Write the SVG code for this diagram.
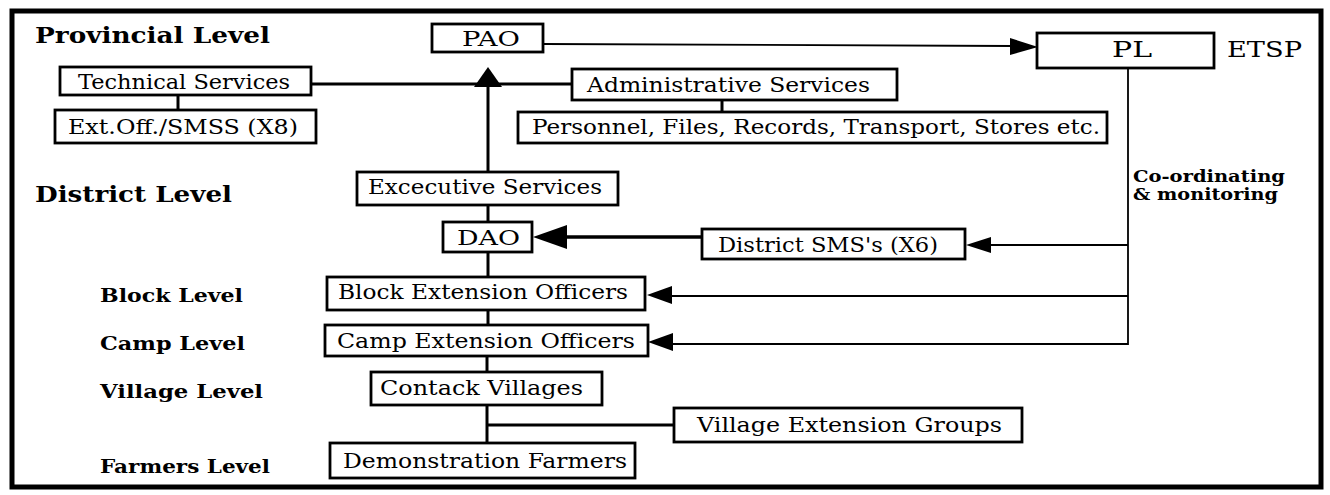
<svg xmlns="http://www.w3.org/2000/svg" width="1330" height="495" viewBox="0 0 1330 495">
  <style>
    .frame { fill: none; stroke: #000; stroke-width: 5; }
    .box rect { fill: #fff; stroke: #000; stroke-width: 2.8; }
    .box text { font-family: "DejaVu Serif", "Liberation Serif", serif; font-size: 20.5px; fill: #000; }
    .lvl { font-family: "DejaVu Serif", "Liberation Serif", serif; font-weight: bold; fill: #000; }
    .big { font-size: 22.5px; }
    .small { font-size: 18.5px; }
    .note { font-family: "DejaVu Serif", "Liberation Serif", serif; font-weight: bold; font-size: 16.5px; fill: #000; }
    .tag { font-family: "DejaVu Serif", "Liberation Serif", serif; font-size: 23px; fill: #000; }
    .thick { fill: none; stroke: #000; stroke-width: 3; }
    .heavy { fill: none; stroke: #000; stroke-width: 3.6; }
    .thin { fill: none; stroke: #000; stroke-width: 1.8; }
    .head { fill: #000; stroke: none; }
  </style>

  <rect class="frame" x="12" y="11" width="1309" height="476"/>

  <!-- level labels -->
  <g id="levels">
    <text class="lvl big" x="35" y="43" textLength="235" lengthAdjust="spacingAndGlyphs">Provincial Level</text>
    <text class="lvl big" x="35" y="202" textLength="197" lengthAdjust="spacingAndGlyphs">District Level</text>
    <text class="lvl small" x="100" y="302" textLength="143" lengthAdjust="spacingAndGlyphs">Block Level</text>
    <text class="lvl small" x="100" y="350" textLength="145" lengthAdjust="spacingAndGlyphs">Camp Level</text>
    <text class="lvl small" x="100" y="398" textLength="163" lengthAdjust="spacingAndGlyphs">Village Level</text>
    <text class="lvl small" x="100" y="473" textLength="170" lengthAdjust="spacingAndGlyphs">Farmers Level</text>
  </g>

  <!-- connectors -->
  <g id="connectors">
    <!-- technical / administrative branch through the arrow base -->
    <line class="thick" x1="311" y1="84" x2="572" y2="84"/>
    <line class="thick" x1="178" y1="95" x2="178" y2="110"/>
    <line class="thick" x1="722" y1="100" x2="722" y2="112"/>
    <!-- executive services up to PAO -->
    <line class="thick" x1="488" y1="172" x2="488" y2="84"/>
    <polygon class="head" points="488,67 474,87 502,87"/>
    <!-- PAO to PL -->
    <line class="thin" x1="543" y1="44" x2="1012" y2="46"/>
    <polygon class="head" points="1038,47 1010,38 1010,55"/>
    <!-- vertical chain -->
    <line class="thick" x1="488" y1="205" x2="488" y2="222"/>
    <line class="thick" x1="488" y1="252" x2="488" y2="277"/>
    <line class="thick" x1="488" y1="310" x2="488" y2="325"/>
    <line class="thick" x1="487" y1="356" x2="487" y2="372"/>
    <line class="thick" x1="487" y1="405" x2="487" y2="443"/>
    <line class="thick" x1="487" y1="425" x2="674" y2="425"/>
    <!-- district SMS to DAO -->
    <line class="heavy" x1="560" y1="237" x2="702" y2="237"/>
    <polygon class="head" points="533,237 567,225 567,249"/>
    <!-- co-ordinating and monitoring from PL -->
    <polyline class="thin" points="1128,68 1128,344 672,344"/>
    <line class="thin" x1="1128" y1="296" x2="672" y2="296"/>
    <line class="thin" x1="1128" y1="245" x2="990" y2="245"/>
    <polygon class="head" points="966,245 991,237 991,253"/>
    <polygon class="head" points="647,295 672,286 672,304"/>
    <polygon class="head" points="648,342 673,333 673,351"/>
  </g>

  <g id="pao" class="box">
    <rect x="432" y="24" width="111" height="28"/>
    <text x="462" y="46" textLength="58" lengthAdjust="spacingAndGlyphs">PAO</text>
  </g>
  <g id="pl" class="box">
    <rect x="1037" y="33" width="177" height="35"/>
    <text x="1112" y="57" style="font-size:23px" textLength="40" lengthAdjust="spacingAndGlyphs">PL</text>
  </g>
  <text id="etsp" class="tag" x="1227" y="57" textLength="75" lengthAdjust="spacingAndGlyphs">ETSP</text>

  <g id="technical-services" class="box">
    <rect x="60" y="67" width="251" height="28"/>
    <text x="78" y="89" textLength="212" lengthAdjust="spacingAndGlyphs">Technical Services</text>
  </g>
  <g id="ext-off" class="box">
    <rect x="55" y="110" width="261" height="33"/>
    <text x="68" y="134" textLength="230" lengthAdjust="spacingAndGlyphs">Ext.Off./SMSS (X8)</text>
  </g>
  <g id="administrative-services" class="box">
    <rect x="572" y="69" width="325" height="31"/>
    <text x="587" y="92" textLength="283" lengthAdjust="spacingAndGlyphs">Administrative Services</text>
  </g>
  <g id="personnel" class="box">
    <rect x="518" y="112" width="589" height="31"/>
    <text x="532" y="134" textLength="568" lengthAdjust="spacingAndGlyphs">Personnel, Files, Records, Transport, Stores etc.</text>
  </g>

  <g id="note">
    <text class="note" x="1133" y="182" textLength="152" lengthAdjust="spacingAndGlyphs">Co-ordinating</text>
    <text class="note" x="1133" y="200" textLength="145" lengthAdjust="spacingAndGlyphs">&amp; monitoring</text>
  </g>

  <g id="executive-services" class="box">
    <rect x="357" y="172" width="261" height="33"/>
    <text x="368" y="194" textLength="234" lengthAdjust="spacingAndGlyphs">Excecutive Services</text>
  </g>
  <g id="dao" class="box">
    <rect x="443" y="222" width="89" height="30"/>
    <text x="457" y="245" textLength="63" lengthAdjust="spacingAndGlyphs">DAO</text>
  </g>
  <g id="district-sms" class="box">
    <rect x="702" y="229" width="263" height="30"/>
    <text x="718" y="252" textLength="220" lengthAdjust="spacingAndGlyphs">District SMS's (X6)</text>
  </g>
  <g id="block-extension-officers" class="box">
    <rect x="327" y="277" width="318" height="33"/>
    <text x="338" y="299" textLength="290" lengthAdjust="spacingAndGlyphs">Block Extension Officers</text>
  </g>
  <g id="camp-extension-officers" class="box">
    <rect x="325" y="325" width="323" height="31"/>
    <text x="337" y="348" textLength="298" lengthAdjust="spacingAndGlyphs">Camp Extension Officers</text>
  </g>
  <g id="contack-villages" class="box">
    <rect x="371" y="372" width="231" height="33"/>
    <text x="380" y="395" textLength="203" lengthAdjust="spacingAndGlyphs">Contack Villages</text>
  </g>
  <g id="village-extension-groups" class="box">
    <rect x="674" y="408" width="348" height="34"/>
    <text x="697" y="432" textLength="305" lengthAdjust="spacingAndGlyphs">Village Extension Groups</text>
  </g>
  <g id="demonstration-farmers" class="box">
    <rect x="330" y="443" width="305" height="35"/>
    <text x="343" y="468" textLength="284" lengthAdjust="spacingAndGlyphs">Demonstration Farmers</text>
  </g>
</svg>
